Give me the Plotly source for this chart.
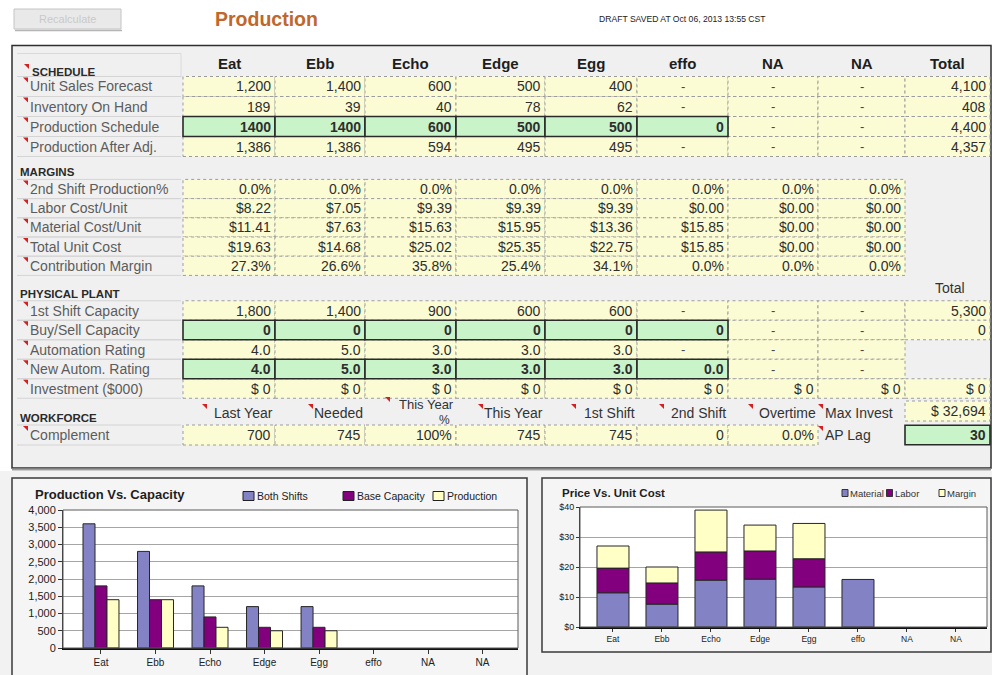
import plotly.graph_objects as go

W, H = 992, 675
FONT = "Liberation Sans, Arial, sans-serif"

# ---------------- data ----------------
products = ["Eat", "Ebb", "Echo", "Edge", "Egg", "effo", "NA", "NA"]

unit_sales_forecast = [1200, 1400, 600, 500, 400, None, None, None]
unit_sales_total = 4100
inventory_on_hand = [189, 39, 40, 78, 62, None, None, None]
inventory_total = 408
production_schedule = [1400, 1400, 600, 500, 500, 0, None, None]
production_schedule_total = 4400
production_after_adj = [1386, 1386, 594, 495, 495, None, None, None]
production_after_adj_total = 4357

second_shift_pct = [0.0, 0.0, 0.0, 0.0, 0.0, 0.0, 0.0, 0.0]
labor_cost_unit = [8.22, 7.05, 9.39, 9.39, 9.39, 0.00, 0.00, 0.00]
material_cost_unit = [11.41, 7.63, 15.63, 15.95, 13.36, 15.85, 0.00, 0.00]
total_unit_cost = [19.63, 14.68, 25.02, 25.35, 22.75, 15.85, 0.00, 0.00]
contribution_margin = [27.3, 26.6, 35.8, 25.4, 34.1, 0.0, 0.0, 0.0]

first_shift_capacity = [1800, 1400, 900, 600, 600, None, None, None]
first_shift_total = 5300
buy_sell_capacity = [0, 0, 0, 0, 0, 0, None, None]
buy_sell_total = 0
automation_rating = [4.0, 5.0, 3.0, 3.0, 3.0, None, None, None]
new_autom_rating = [4.0, 5.0, 3.0, 3.0, 3.0, 0.0, None, None]
investment = [0, 0, 0, 0, 0, 0, 0, 0]
investment_total = 0

workforce_headers = ["Last Year", "Needed", "This Year|%", "This Year", "1st Shift", "2nd Shift", "Overtime"]
complement = ["700", "745", "100%", "745", "745", "0", "0.0%"]
max_invest = 32694
ap_lag = 30

# chart series
both_shifts = [3600, 2800, 1800, 1200, 1200, 0, 0, 0]
base_capacity = [1800, 1400, 900, 600, 600, 0, 0, 0]
production = [1400, 1400, 600, 500, 500, 0, 0, 0]
cap_ticks = [0, 500, 1000, 1500, 2000, 2500, 3000, 3500, 4000]

price_material = [11.41, 7.63, 15.63, 15.95, 13.36, 15.85, 0, 0]
price_labor = [8.22, 7.05, 9.39, 9.39, 9.39, 0, 0, 0]
price_margin = [7.37, 5.32, 13.95, 8.63, 11.77, 0, 0, 0]
price_ticks = [0, 10, 20, 30, 40]

C_BLUE = "#8282c4"
C_PURPLE = "#82007e"
C_CREAM = "#ffffc6"

# ---------------- helpers ----------------
shapes, green_shapes, annotations = [], [], []


def X(p):
    return p / W


def Y(p):
    return 1 - p / H


def rect(x0, y0, x1, y1, fill="rgba(0,0,0,0)", line="rgba(0,0,0,0)", width=0,
         dash="solid", layer="below", target=None):
    (shapes if target is None else target).append(dict(
        type="rect", xref="paper", yref="paper",
        x0=X(x0), x1=X(x1), y0=Y(y1), y1=Y(y0), fillcolor=fill,
        line=dict(color=line, width=width, dash=dash), layer=layer))


def hline(x0, x1, y, color, width=1):
    shapes.append(dict(type="line", xref="paper", yref="paper",
                       x0=X(x0), x1=X(x1), y0=Y(y), y1=Y(y),
                       line=dict(color=color, width=width), layer="below"))


def vline(x, y0, y1, color, width=1):
    shapes.append(dict(type="line", xref="paper", yref="paper",
                       x0=X(x), x1=X(x), y0=Y(y0), y1=Y(y1),
                       line=dict(color=color, width=width), layer="below"))


def text(x, y, s, size=14, color="#333333", anchor="left", bold=False, family=FONT, align="left"):
    if bold:
        s = "<b>" + s + "</b>"
    annotations.append(dict(xref="paper", yref="paper", x=X(x), y=Y(y), text=s,
                            showarrow=False, xanchor=anchor, yanchor="middle", align=align,
                            font=dict(size=size, color=color, family=family),
                            borderpad=0, borderwidth=0))


def red_mark(x, y):
    shapes.append(dict(type="path", xref="paper", yref="paper",
                       path=f"M{X(x)},{Y(y)} L{X(x + 5)},{Y(y)} L{X(x + 5)},{Y(y + 5)} Z",
                       fillcolor="#d42020", line=dict(width=0), layer="above"))


def f_int(v):
    return "-" if v is None else f"{v:,}"


def f_plain(v):
    return "-" if v is None else f"{v}"


def f_money(v):
    return f"${v:.2f}"


def f_pct(v):
    return f"{v:.1f}%"


def f_one(v):
    return "-" if v is None else f"{v:.1f}"


def f_inv(v):
    return f"$ {v:,}"


def nz(vals):
    # empty categories draw no bar at all
    return [v if v else None for v in vals]


COLS = [183, 275, 365, 456, 545, 637, 728, 818, 905, 990]
YELLOW = "#fcfcd4"
GREEN = "#c9f3c9"


def cell(ci, yc, h, s, green=False):
    x0, x1 = COLS[ci], COLS[ci + 1]
    y0, y1 = yc - h / 2, yc + h / 2
    if green:
        rect(x0, y0, x1, y1, fill=GREEN, line="#2a2a2a", width=1.6, target=green_shapes)
    else:
        rect(x0, y0, x1, y1, fill=YELLOW, line="#9c9c9c", width=1, dash="dot")
    if s == "-":
        text((x0 + x1) / 2, yc, "-", size=13, color="#444", anchor="center")
    else:
        text(x1 - 4, yc, s, size=14, color="#2e2e2e", anchor="right", bold=green)


def label_row(label, yc, h, mark=True):
    if mark:
        red_mark(23, yc - h / 2 + 1)
    text(30, yc, label, size=14, color="#5c5c5c")
    hline(17, 181, yc - h / 2, "#d4d4d4")
    hline(17, 181, yc + h / 2, "#d4d4d4")


def data_row(label, yc, h, values, fmt, total=None, total_fmt=None, green_upto=-1,
             green_fmt=None):
    label_row(label, yc, h)
    for i, v in enumerate(values):
        g = i <= green_upto
        s = (green_fmt or fmt)(v) if g else fmt(v)
        cell(i, yc, h, s, green=g)
    if total is not None:
        cell(8, yc, h, (total_fmt or fmt)(total))


# ---------------- page chrome ----------------
rect(14, 9, 121, 29, fill="#e9e9e9", line="#c4c4c4", width=1)
hline(15, 122, 30.5, "#b5b5b5", 1.5)
text(67.5, 19.5, "Recalculate", size=11, color="#c9c9c9", anchor="center")
text(266, 19, "Production", size=19.5, color="#c0672c", anchor="center", bold=True)
text(682, 19, "DRAFT SAVED AT Oct 06, 2013 13:55 CST", size=8.6, color="#222", anchor="center")

# main panel
rect(12, 45.5, 991, 468, fill="#f0f0f0", line="#2f2f2f", width=1.5)
hline(12, 991, 469.5, "#9a9a9a", 2)

# column headers
for i, p in enumerate(products + ["Total"]):
    text((COLS[i] + COLS[i + 1]) / 2, 63, p, size=15, color="#1e1e1e", anchor="center", bold=True)

# SCHEDULE
hline(17, 181, 53.5, "#dadada")
vline(181, 53.5, 77, "#dadada")
red_mark(24, 64)
text(32, 71.5, "SCHEDULE", size=11.5, color="#2a2a2a", bold=True)
sched_y = [86.5, 106.5, 126.5, 146.5]
data_row("Unit Sales Forecast", sched_y[0], 20, unit_sales_forecast, f_int, unit_sales_total)
data_row("Inventory On Hand", sched_y[1], 20, inventory_on_hand, f_int, inventory_total)
data_row("Production Schedule", sched_y[2], 20, production_schedule, f_int,
         production_schedule_total, green_upto=5, green_fmt=f_plain)
data_row("Production After Adj.", sched_y[3], 20, production_after_adj, f_int,
         production_after_adj_total)

# MARGINS
text(20, 172, "MARGINS", size=11.5, color="#2a2a2a", bold=True)
marg_y = [189, 208.2, 227.4, 246.6, 265.8]
data_row("2nd Shift Production%", marg_y[0], 19.2, second_shift_pct, f_pct)
data_row("Labor Cost/Unit", marg_y[1], 19.2, labor_cost_unit, f_money)
data_row("Material Cost/Unit", marg_y[2], 19.2, material_cost_unit, f_money)
data_row("Total Unit Cost", marg_y[3], 19.2, total_unit_cost, f_money)
data_row("Contribution Margin", marg_y[4], 19.2, contribution_margin, f_pct)

# PHYSICAL PLANT
text(20, 294, "PHYSICAL PLANT", size=11.5, color="#2a2a2a", bold=True)
text(950, 288, "Total", size=14, color="#333", anchor="center")
plant_y = [310.5, 330, 349.5, 369, 388.5]
data_row("1st Shift Capacity", plant_y[0], 19.5, first_shift_capacity, f_int, first_shift_total)
data_row("Buy/Sell Capacity", plant_y[1], 19.5, buy_sell_capacity, f_int, buy_sell_total,
         green_upto=5, green_fmt=f_plain)
data_row("Automation Rating", plant_y[2], 19.5, automation_rating, f_one)
data_row("New Autom. Rating", plant_y[3], 19.5, new_autom_rating, f_one, green_upto=5)
data_row("Investment ($000)", plant_y[4], 19.5, investment, f_inv, investment_total)

# WORKFORCE
text(20, 418, "WORKFORCE", size=11.5, color="#2a2a2a", bold=True)
hdr_y = 412.5
mark_x = [202, 308, 385, 478, 571, 659, 748]
for i, hdr in enumerate(workforce_headers):
    right = COLS[i + 1] - 2
    if "|" in hdr:
        top, bottom = hdr.split("|")
        text(right, 404.5, top, size=13, color="#333", anchor="right")
        text(right - 4, 419.5, bottom, size=12, color="#333", anchor="right")
        red_mark(mark_x[i], 397)
    else:
        text(right, hdr_y, hdr, size=14, color="#333", anchor="right")
        red_mark(mark_x[i], 404)
red_mark(818, 404)
text(825, hdr_y, "Max Invest", size=14, color="#333")
cell(8, 411, 20, f_inv(max_invest))

comp_y = 435
label_row("Complement", comp_y, 20)
for i, s in enumerate(complement):
    cell(i, comp_y, 20, s)
red_mark(818, 426)
text(825, comp_y, "AP Lag", size=14, color="#333")
cell(8, comp_y, 19.5, f"{ap_lag}", green=True)

# ---------------- chart panels ----------------
rect(0, 471, 992, 675, fill="#f2f2f2")
rect(12, 478, 527, 700, fill="#f5f5f5", line="#3a3a3a", width=1.5)
rect(542, 478, 991, 652, fill="#f5f5f5", line="#3a3a3a", width=1.5)
L_PA = (63, 510, 518, 648)
R_PA = (580, 507, 987, 627)
rect(*L_PA, fill="#ffffff")
rect(*R_PA, fill="#ffffff")
rect(*L_PA, line="#5a5a5a", width=1, layer="above")
rect(*R_PA, line="#5a5a5a", width=1, layer="above")

text(35, 495, "Production Vs. Capacity", size=13, color="#1e1e1e", bold=True)
text(562, 493, "Price Vs. Unit Cost", size=11.5, color="#1e1e1e", bold=True)

fig = go.Figure()
idx = list(range(len(products)))

cap_series = [("Both Shifts", both_shifts, C_BLUE),
              ("Base Capacity", base_capacity, C_PURPLE),
              ("Production", production, C_CREAM)]
GROUP_W = 0.66
bw = GROUP_W / len(cap_series)
for k, (name, vals, col) in enumerate(cap_series):
    fig.add_trace(go.Bar(x=idx, y=nz(vals), name=name, width=bw, offset=-GROUP_W / 2 + k * bw,
                         marker=dict(color=col, line=dict(color="#262626", width=1)),
                         xaxis="x", yaxis="y", showlegend=False))

price_series = [("Material", price_material, C_BLUE),
                ("Labor", price_labor, C_PURPLE),
                ("Margin", price_margin, C_CREAM)]
cum = [0] * len(products)
for name, vals, col in price_series:
    fig.add_trace(go.Bar(x=idx, y=nz(vals), base=list(cum), name=name, width=0.653,
                         marker=dict(color=col, line=dict(color="#262626", width=1)),
                         xaxis="x2", yaxis="y2", showlegend=False))
    cum = [a + b for a, b in zip(cum, vals)]

# legends
leg_left = [243, 343, 433]
for (name, _, col), bx in zip(cap_series, leg_left):
    rect(bx, 491.5, bx + 11, 500.5, fill=col, line="#222", width=1, layer="above")
    text(bx + 14, 496, name, size=10.5, color="#222")
leg_right = [842, 886.5, 939]
for (name, _, col), bx in zip(price_series, leg_right):
    rect(bx, 489.5, bx + 6, 496.5, fill=col, line="#333", width=1, layer="above")
    text(bx + 8, 493, name, size=9.5, color="#333")

fig.update_layout(
    width=W, height=H, margin=dict(l=0, r=0, t=0, b=0, pad=0, autoexpand=False),
    paper_bgcolor="#ffffff", plot_bgcolor="rgba(0,0,0,0)",
    barmode="overlay", showlegend=False,
    font=dict(family=FONT, color="#222"),
    shapes=shapes + green_shapes, annotations=annotations,
    xaxis=dict(domain=[X(L_PA[0]), X(L_PA[2])], range=[-0.697, 7.65],
               tickvals=idx, ticktext=products, tickfont=dict(size=10, color="#222"),
               ticks="outside", ticklen=4, tickcolor="#333", showline=True, automargin=False,
               linecolor="#111", linewidth=2, showgrid=False, zeroline=False, fixedrange=True),
    yaxis=dict(domain=[Y(L_PA[3]), Y(L_PA[1])], range=[0, 4000], tickvals=cap_ticks,
               tickformat=",", tickfont=dict(size=11, color="#222"), ticks="outside",
               ticklen=4, tickcolor="#333", showline=True, linecolor="#333", linewidth=1,
               automargin=False,
               showgrid=True, gridcolor="#a5a5a5", gridwidth=1, zeroline=False, fixedrange=True),
    xaxis2=dict(domain=[X(R_PA[0]), X(R_PA[2])], range=[-0.673, 7.633], anchor="y2",
                tickvals=idx, ticktext=products, tickfont=dict(size=8.5, color="#222"),
                ticks="outside", ticklen=3, tickcolor="#333", showline=True, automargin=False,
                linecolor="#111", linewidth=2, showgrid=False, zeroline=False, fixedrange=True),
    yaxis2=dict(domain=[Y(R_PA[3]), Y(R_PA[1])], range=[0, 40], anchor="x2",
                tickvals=price_ticks, ticktext=["$" + str(v) for v in price_ticks],
                tickfont=dict(size=9, color="#222"),
                ticks="outside", ticklen=3, tickcolor="#333", showline=True, linecolor="#333",
                automargin=False,
                linewidth=1, showgrid=True, gridcolor="#a5a5a5", gridwidth=1, zeroline=False,
                fixedrange=True),
)

fig.write_html("out.html", config={"displayModeBar": False},
               post_script="document.body.style.margin='0px';document.body.style.padding='0px';")
